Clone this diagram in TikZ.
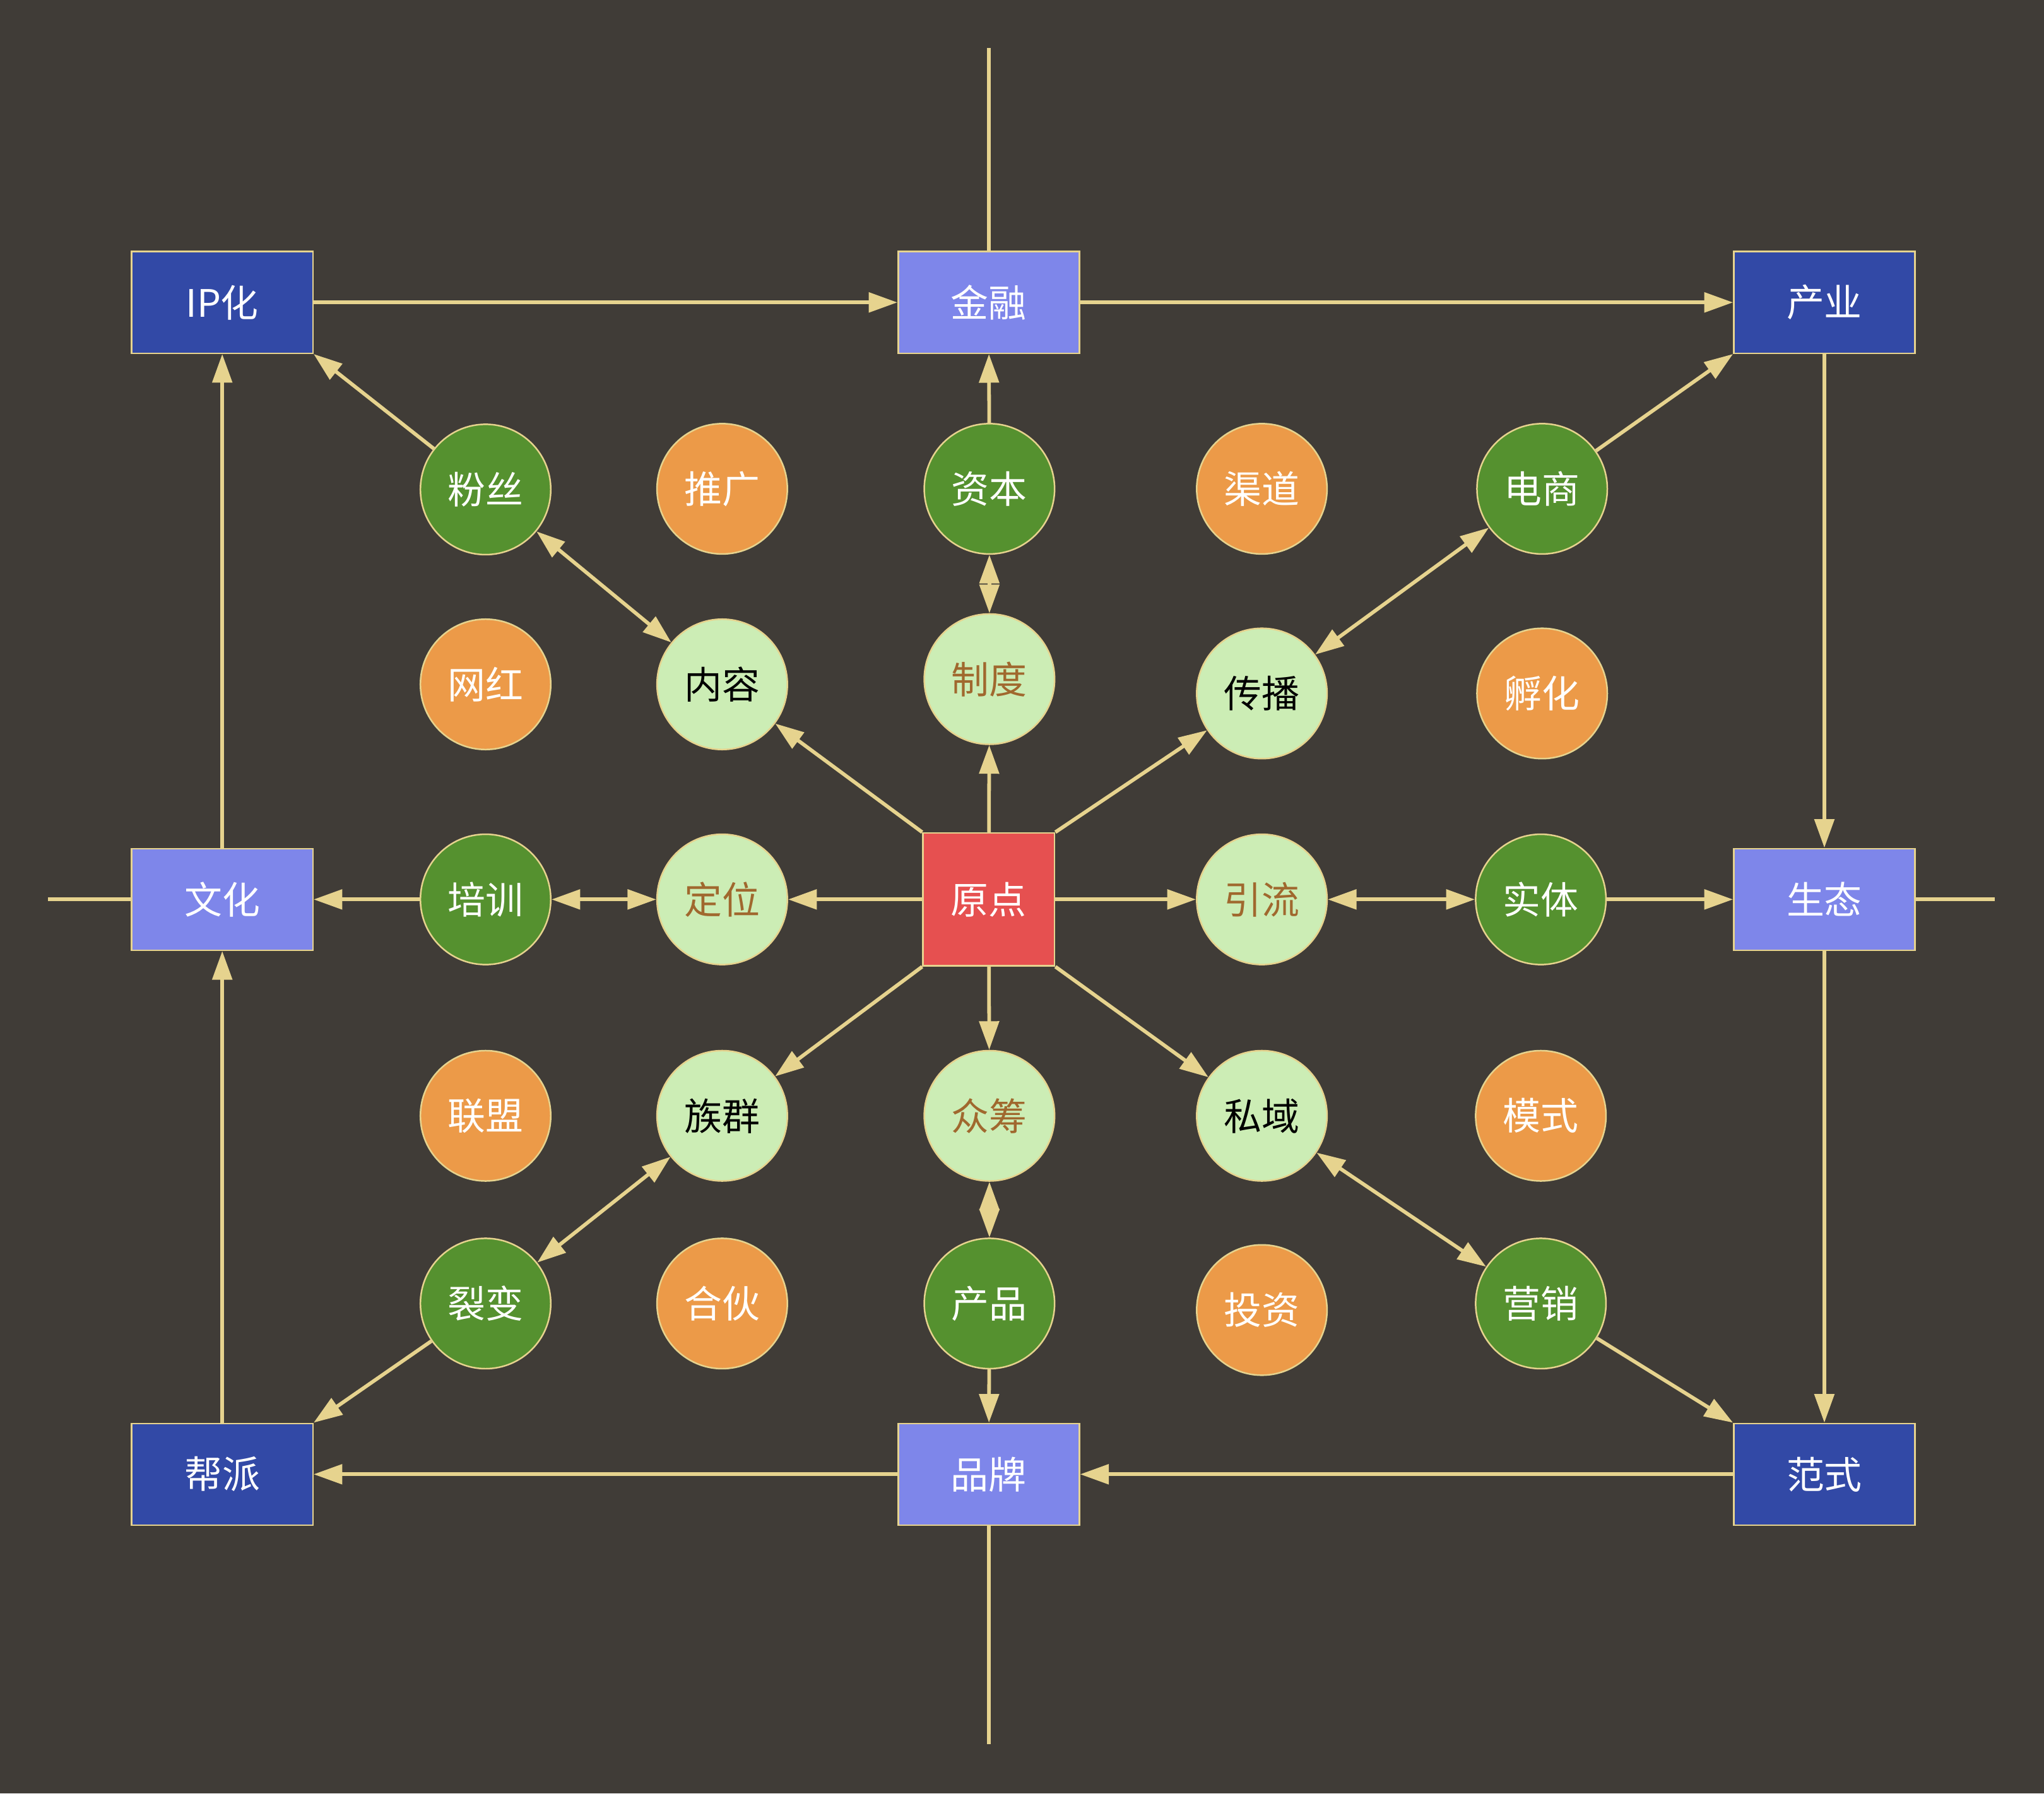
\documentclass[tikz,border=0pt]{standalone}
\usepackage{fontspec}
\setmainfont{Noto Sans CJK SC}
\usetikzlibrary{arrows.meta}
\definecolor{bg}{HTML}{403C37}
\definecolor{ln}{HTML}{E6D38E}
\definecolor{dblue}{HTML}{3249A6}
\definecolor{lblue}{HTML}{7E86EA}
\definecolor{rd}{HTML}{E65050}
\definecolor{dgreen}{HTML}{55912F}
\definecolor{orng}{HTML}{EC9A48}
\definecolor{lgreen}{HTML}{CCEDB5}
\definecolor{brn}{HTML}{A0682E}
\begin{document}
\begin{tikzpicture}[x=1pt,y=-1pt,
 every node/.style={font=\fontsize{29}{32}\selectfont},
 boxd/.style={draw=ln, line width=1.2pt, fill=dblue, text=white, minimum width=139pt, minimum height=78pt, inner sep=0pt},
 boxl/.style={boxd, fill=lblue},
 origin/.style={draw=ln, line width=1.2pt, fill=rd, text=white, minimum width=101pt, minimum height=102pt, inner sep=0pt},
 cdg/.style={circle, draw=ln, line width=1.2pt, fill=dgreen, text=white, minimum size=100pt, inner sep=0pt},
 cor/.style={cdg, fill=orng},
 clb/.style={cdg, fill=lgreen, text=black},
 clbr/.style={cdg, fill=lgreen, text=brn},
 conn/.style={draw=ln, line width=2.8pt, -{Triangle[length=22pt,width=15pt]}},
 dconn/.style={draw=ln, line width=2.8pt, {Triangle[length=22pt,width=15pt]}-{Triangle[length=22pt,width=15pt]}},
 axisline/.style={draw=ln, line width=2.8pt}
]
\fill[bg] (0,0) rectangle (1568,1376);
\useasboundingbox (0,0) rectangle (1568,1376);

% boxes
\node[boxd] (iph) at (170.5,232) {IP化};
\node[boxl] (jinrong) at (758.5,232) {金融};
\node[boxd] (chanye) at (1399.5,232) {产业};
\node[boxl] (wenhua) at (170.5,690) {文化};
\node[boxl] (shengtai) at (1399.5,690) {生态};
\node[boxd] (bangpai) at (170.5,1131) {帮派};
\node[boxl] (pinpai) at (758.5,1131) {品牌};
\node[boxd] (fanshi) at (1399.5,1131) {范式};
\node[origin] (yuandian) at (758.5,690) {原点};

% circles
\node[cdg] (fensi) at (372.5,375.5) {粉丝};
\node[cor] (tuiguang) at (554,375) {推广};
\node[cdg] (ziben) at (759,375) {资本};
\node[cor] (qudao) at (968,375) {渠道};
\node[cdg] (dianshang) at (1183,375) {电商};
\node[cor] (wanghong) at (372.5,525) {网红};
\node[clb] (neirong) at (554,525) {内容};
\node[clbr] (zhidu) at (759,521) {制度};
\node[clb] (chuanbo) at (968,532) {传播};
\node[cor] (fuhua) at (1183,532) {孵化};
\node[cdg] (peixun) at (372.5,690) {培训};
\node[clbr] (dingwei) at (554,690) {定位};
\node[clbr] (yinliu) at (968,690) {引流};
\node[cdg] (shiti) at (1182,690) {实体};
\node[cor] (lianmeng) at (372.5,856) {联盟};
\node[clb] (zuqun) at (554,856) {族群};
\node[clbr] (zhongchou) at (759,856) {众筹};
\node[clb] (siyu) at (968,856) {私域};
\node[cor] (moshi) at (1182,856) {模式};
\node[cdg] (liebian) at (372.5,1000) {裂变};
\node[cor] (hehuo) at (554,1000) {合伙};
\node[cdg] (chanpin) at (759,1000) {产品};
\node[cor] (touzi) at (968,1005) {投资};
\node[cdg] (yingxiao) at (1182,1000) {营销};

% axis ends
\coordinate (atop) at (758.5,37);
\coordinate (abot) at (758.5,1338);
\coordinate (alft) at (37,690);
\coordinate (argt) at (1530,690);

\draw[axisline] (atop) -- (jinrong);
\draw[axisline] (pinpai) -- (abot);
\draw[axisline] (alft) -- (wenhua);
\draw[axisline] (shengtai) -- (argt);

% outer frame
\draw[conn] (iph) -- (jinrong);
\draw[conn] (jinrong) -- (chanye);
\draw[conn] (chanye) -- (shengtai);
\draw[conn] (shengtai) -- (fanshi);
\draw[conn] (fanshi) -- (pinpai);
\draw[conn] (pinpai) -- (bangpai);
\draw[conn] (bangpai) -- (wenhua);
\draw[conn] (wenhua) -- (iph);

% to corners / mid boxes
\draw[conn] (fensi) -- (iph.south east);
\draw[conn] (ziben) -- (jinrong);
\draw[conn] (dianshang) -- (chanye.south west);
\draw[conn] (peixun) -- (wenhua);
\draw[conn] (shiti) -- (shengtai);
\draw[conn] (liebian) -- (bangpai.north east);
\draw[conn] (chanpin) -- (pinpai);
\draw[conn] (yingxiao) -- (fanshi.north west);

% double
\draw[dconn] (fensi) -- (neirong);
\draw[dconn] (ziben) -- (zhidu);
\draw[dconn] (dianshang) -- (chuanbo);
\draw[dconn] (peixun) -- (dingwei);
\draw[dconn] (yinliu) -- (shiti);
\draw[dconn] (zuqun) -- (liebian);
\draw[dconn] (zhongchou) -- (chanpin);
\draw[dconn] (siyu) -- (yingxiao);

% from origin
\draw[conn] (yuandian.north west) -- (neirong);
\draw[conn] (yuandian) -- (zhidu);
\draw[conn] (yuandian.north east) -- (chuanbo);
\draw[conn] (yuandian) -- (dingwei);
\draw[conn] (yuandian) -- (yinliu);
\draw[conn] (yuandian.south west) -- (zuqun);
\draw[conn] (yuandian) -- (zhongchou);
\draw[conn] (yuandian.south east) -- (siyu);
\end{tikzpicture}
\end{document}
